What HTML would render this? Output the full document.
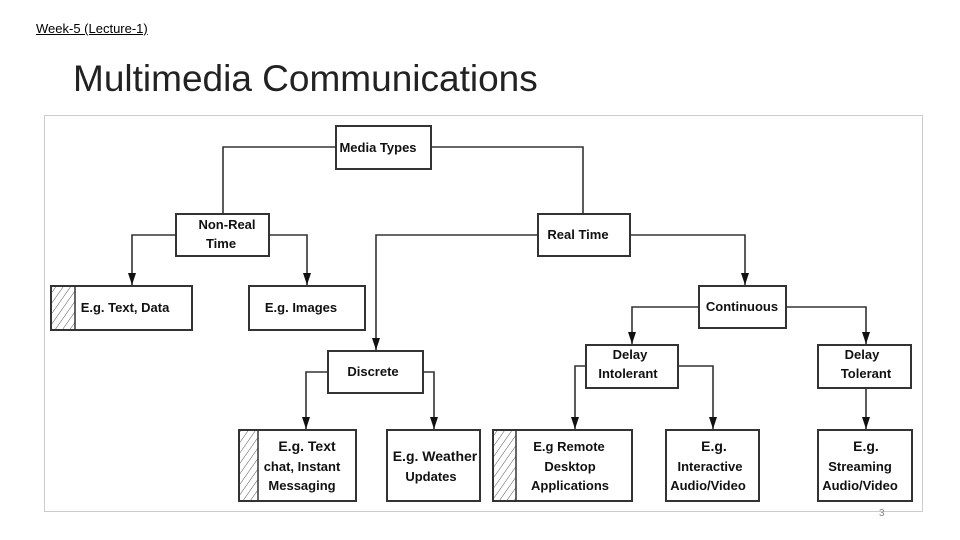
<!DOCTYPE html>
<html><head><meta charset="utf-8"><style>
body{margin:0;width:960px;height:540px;background:#fff;overflow:hidden;position:relative;font-family:"Liberation Sans",sans-serif}
.t1{position:absolute;left:36px;top:21px;font-size:13px;text-decoration:underline;color:#000}
.t2{position:absolute;left:73px;top:58px;font-size:37px;color:#222;font-weight:300}
.pg{position:absolute;left:879px;top:508px;font-size:10px;color:#888}
svg{position:absolute;left:0;top:0}
svg text{font-family:"Liberation Sans",sans-serif;font-weight:bold;font-size:13px;text-anchor:middle;fill:#111}
</style></head><body>
<div class="t1">Week-5 (Lecture-1)</div>
<div class="t2">Multimedia Communications</div>
<svg width="960" height="540" viewBox="0 0 960 540">
<defs>
<marker id="a" markerWidth="12" markerHeight="8" refX="12" refY="4" orient="auto" markerUnits="userSpaceOnUse"><path d="M0,0 L12,4 L0,8 Z" fill="#111"/></marker>
<pattern id="h" width="6" height="6" patternUnits="userSpaceOnUse" patternTransform="rotate(35)"><line x1="0" y1="0" x2="0" y2="6" stroke="#555" stroke-width="1"/></pattern>
</defs>
<rect x="44.5" y="115.5" width="878" height="396" fill="none" stroke="#ccc"/>
<g stroke="#333" stroke-width="1.6" fill="none">
<polyline points="336,147 223,147 223,214"/>
<polyline points="431,147 583,147 583,214"/>
<polyline points="176,235 132,235 132,285" marker-end="url(#a)"/>
<polyline points="269,235 307,235 307,285" marker-end="url(#a)"/>
<polyline points="538,235 376,235 376,350" marker-end="url(#a)"/>
<polyline points="630,235 745,235 745,285" marker-end="url(#a)"/>
<polyline points="699,307 632,307 632,344" marker-end="url(#a)"/>
<polyline points="786,307 866,307 866,344" marker-end="url(#a)"/>
<polyline points="586,366 575,366 575,429" marker-end="url(#a)"/>
<polyline points="678,366 713,366 713,429" marker-end="url(#a)"/>
<polyline points="866,388 866,429" marker-end="url(#a)"/>
<polyline points="328,372 306,372 306,429" marker-end="url(#a)"/>
<polyline points="423,372 434,372 434,429" marker-end="url(#a)"/>
</g>
<g fill="#fff" stroke="#333" stroke-width="2">
<rect x="336" y="126" width="95" height="43"/>
<rect x="176" y="214" width="93" height="42"/>
<rect x="538" y="214" width="92" height="42"/>
<rect x="51" y="286" width="141" height="44"/>
<rect x="249" y="286" width="116" height="44"/>
<rect x="699" y="286" width="87" height="42"/>
<rect x="586" y="345" width="92" height="43"/>
<rect x="818" y="345" width="93" height="43"/>
<rect x="328" y="351" width="95" height="42"/>
<rect x="239" y="430" width="117" height="71"/>
<rect x="387" y="430" width="93" height="71"/>
<rect x="493" y="430" width="139" height="71"/>
<rect x="666" y="430" width="93" height="71"/>
<rect x="818" y="430" width="94" height="71"/>
</g>
<g stroke="#333" stroke-width="1.5">
<rect x="51" y="286" width="24" height="44" fill="url(#h)"/>
<rect x="239" y="430" width="19" height="71" fill="url(#h)"/>
<rect x="493" y="430" width="23" height="71" fill="url(#h)"/>
</g>
<text x="378" y="152">Media Types</text>
<text x="227" y="229">Non-Real</text><text x="221" y="248">Time</text>
<text x="578" y="239">Real Time</text>
<text x="125" y="312">E.g. Text, Data</text>
<text x="301" y="312">E.g. Images</text>
<text x="742" y="311">Continuous</text>
<text x="630" y="359">Delay</text><text x="628" y="378">Intolerant</text>
<text x="862" y="359">Delay</text><text x="866" y="378">Tolerant</text>
<text x="373" y="376">Discrete</text>
<text x="307" y="451" style="font-size:14px">E.g. Text</text><text x="302" y="471">chat, Instant</text><text x="302" y="490">Messaging</text>
<text x="435" y="461" style="font-size:14px">E.g. Weather</text><text x="431" y="481">Updates</text>
<text x="569" y="451">E.g Remote</text><text x="570" y="471">Desktop</text><text x="570" y="490">Applications</text>
<text x="714" y="451" style="font-size:14px">E.g.</text><text x="710" y="471">Interactive</text><text x="708" y="490">Audio/Video</text>
<text x="866" y="451" style="font-size:14px">E.g.</text><text x="860" y="471">Streaming</text><text x="860" y="490">Audio/Video</text>
</svg>
<div class="pg">3</div>
</body></html>
